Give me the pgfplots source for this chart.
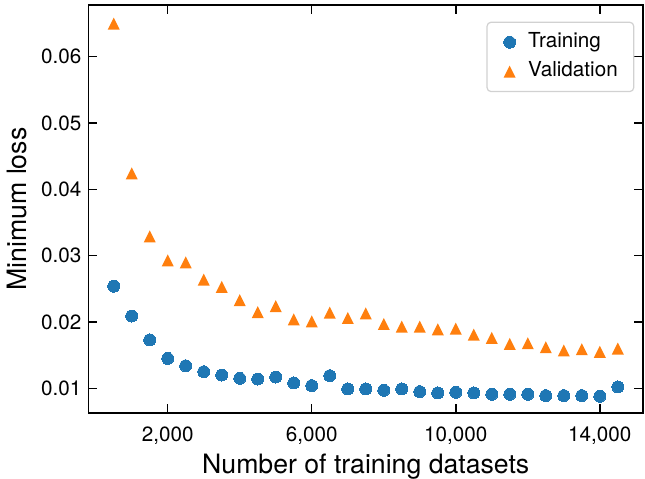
\documentclass[border=0pt]{standalone}
\usepackage{pgfplots}
\pgfplotsset{compat=1.18}
\usepackage{fontspec}
\setmainfont{TeX Gyre Heros}

\definecolor{tabblue}{HTML}{1F77B4}
\definecolor{taborange}{HTML}{FF7F0E}

% upward triangle that fills its square bounding box
\pgfdeclareplotmark{uptri}{%
  \pgfpathmoveto{\pgfqpoint{0pt}{\pgfplotmarksize}}%
  \pgfpathlineto{\pgfqpoint{-\pgfplotmarksize}{-\pgfplotmarksize}}%
  \pgfpathlineto{\pgfqpoint{\pgfplotmarksize}{-\pgfplotmarksize}}%
  \pgfpathclose
  \pgfusepathqfill}

\pgfplotstableread{
n      loss
500    0.0254
1000   0.0209
1500   0.0173
2000   0.0145
2500   0.0134
3000   0.0125
3500   0.0120
4000   0.0115
4500   0.0114
5000   0.0117
5500   0.0108
6000   0.0104
6500   0.0119
7000   0.0099
7500   0.0099
8000   0.0097
8500   0.0099
9000   0.0095
9500   0.0093
10000  0.0094
10500  0.0093
11000  0.0091
11500  0.0091
12000  0.0091
12500  0.0089
13000  0.0089
13500  0.0089
14000  0.0088
14500  0.0102
}\training

\pgfplotstableread{
n      loss
500    0.0650
1000   0.0424
1500   0.0329
2000   0.0293
2500   0.0290
3000   0.0264
3500   0.0253
4000   0.0233
4500   0.0215
5000   0.0224
5500   0.0204
6000   0.0201
6500   0.0214
7000   0.0206
7500   0.0213
8000   0.0197
8500   0.0193
9000   0.0193
9500   0.0189
10000  0.0190
10500  0.0181
11000  0.0176
11500  0.0167
12000  0.0168
12500  0.0162
13000  0.0157
13500  0.0159
14000  0.0155
14500  0.0160
}\validation

\begin{document}
\begin{tikzpicture}
\begin{axis}[
  at={(0,0)}, anchor=south west,
  scale only axis,
  width=415.9pt, height=306pt,
  xmin=-200, xmax=15200,
  ymin=0.00628, ymax=0.0678,
  xtick={2000,6000,10000,14000},
  ytick={0.01,0.02,0.03,0.04,0.05,0.06},
  scaled x ticks=false, scaled y ticks=false,
  xticklabel style={/pgf/number format/fixed, /pgf/number format/1000 sep={,},
    anchor=north, yshift=-10.3pt},
  yticklabel style={/pgf/number format/fixed, /pgf/number format/fixed zerofill,
    /pgf/number format/precision=2, anchor=east, xshift=-5.1pt},
  /pgf/number format/assume math mode=true,
  tick label style={font=\fontsize{15.5}{18}\selectfont, inner sep=0pt},
  tick align=inside,
  major tick length=6.5pt,
  minor tick num=0,
  every tick/.style={black, line width=1.1pt},
  axis line style={line width=1.2pt},
  xlabel={Number of training datasets},
  ylabel={Minimum loss},
  label style={font=\fontsize{20}{24}\selectfont},
  xlabel style={at={([yshift=-45.2pt]axis description cs:0.5,0)}, anchor=base},
  ylabel style={at={([xshift=-46.4pt]axis description cs:0,0.5)}, anchor=base},
  legend cell align=left,
  legend image code/.code={%
    \path (-4.5pt,0pt) (13.5pt,0pt);
    \draw[sharp corners,#1] plot coordinates {(0pt,0pt)};},
  legend style={
    at={(axis description cs:1,1)}, anchor=north east,
    xshift=-6.5pt, yshift=-12.5pt,
    draw=black!18, line width=0.9pt, rounded corners=3pt, fill=white,
    font=\fontsize{15.5}{18}\selectfont,
    inner xsep=12pt, inner ysep=8pt, row sep=8pt,
    nodes={inner sep=0pt, text height=11pt, text depth=3pt},
  },
]
\addplot[only marks, mark=*, color=tabblue, mark size=4.5pt,
  mark options={line width=0pt}] table[x=n, y=loss] {\training};
\addlegendentry{Training}
\addplot[only marks, mark=uptri, color=taborange, mark size=4.5pt]
  table[x=n, y=loss] {\validation};
\addlegendentry{Validation}
\end{axis}
\pgfresetboundingbox
\useasboundingbox (-66.4pt,-49.5pt) rectangle (417.4pt,309.75pt);
\end{tikzpicture}
\end{document}
